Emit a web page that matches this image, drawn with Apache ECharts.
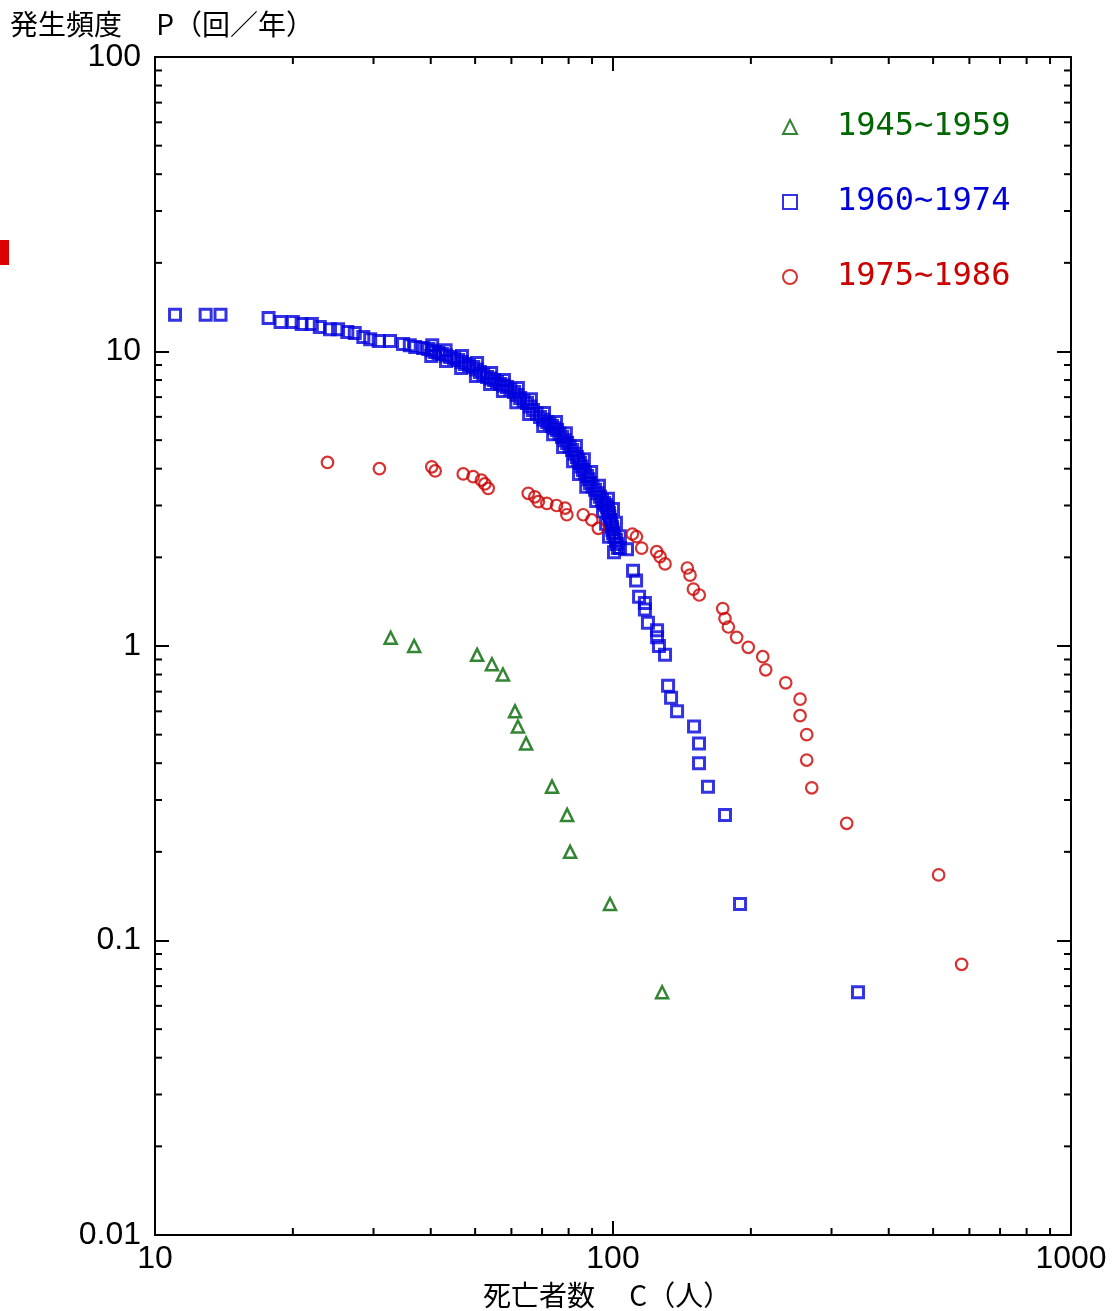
<!DOCTYPE html>
<html>
<head>
<meta charset="utf-8">
<script src="https://cdn.jsdelivr.net/npm/echarts@6/dist/echarts.min.js"></script>
<style>
html, body { margin: 0; background: #fff; }
#main { width: 1118px; height: 1311px; }
</style>
</head>
<body>
<div id="main"></div>
<script>
// 1945~1959 (C 死亡者数, P 発生頻度)
const green = [
	[32.7, 1.067], [36.8, 1.0], [50.5, 0.933], [54.4, 0.867], [57.5, 0.8],
	[61.1, 0.6], [62.0, 0.533], [64.6, 0.467], [73.6, 0.333], [79.4, 0.267],
	[80.6, 0.2], [98.5, 0.133], [128, 0.0667]
];

// 1960~1974
const blue = [
	[11.06, 13.33], [12.9, 13.33], [13.9, 13.33], [17.7, 13.0], [18.8, 12.6],
	[20.0, 12.6], [20.9, 12.4], [22.0, 12.4], [22.9, 12.1], [24.1, 11.9],
	[25.1, 11.9], [26.3, 11.65], [27.3, 11.56], [28.5, 11.2], [29.5, 11.0],
	[30.8, 10.85], [32.6, 10.85], [34.8, 10.6], [36.0, 10.5], [37.0, 10.35], [38.5, 10.28],
	[39.5, 10.2], [40.9, 9.96], [42.3, 9.81], [44.1, 9.58], [45.9, 9.36],
	[47.5, 9.07], [49.5, 8.86], [51.2, 8.52], [53.1, 8.19], [55.0, 8.00],
	[56.7, 7.76], [58.7, 7.58], [60.8, 7.29], [62.7, 6.95], [64.9, 6.68],
	[66.9, 6.33], [69.3, 5.99], [71.8, 5.76], [73.6, 5.58], [75.5, 5.41],
	[77.4, 5.12], [79.4, 4.89], [81.4, 4.63], [83.4, 4.38], [84.7, 4.18],
	[86.0, 3.96], [87.8, 3.78], [89.1, 3.58], [91.4, 3.39], [93.7, 3.21],
	[95.6, 3.06], [97.0, 2.96], [98.0, 2.83], [98.5, 2.68], [99.5, 2.54],
	[100, 2.42], [101.5, 2.29], [102.5, 2.15],
	[40.2, 10.08], [41.6, 9.88], [43.2, 9.70], [45.0, 9.47], [46.7, 9.21],
	[48.5, 8.96], [50.3, 8.69], [52.1, 8.35], [54.0, 8.10], [55.8, 7.88],
	[57.7, 7.67], [59.7, 7.43], [61.7, 7.12], [63.8, 6.81], [65.9, 6.50],
	[68.1, 6.16], [70.5, 5.87], [72.7, 5.67], [74.5, 5.49], [76.4, 5.26],
	[78.4, 5.00], [80.4, 4.76], [82.4, 4.50], [84.0, 4.28], [85.3, 4.07],
	[86.9, 3.87], [88.4, 3.68], [90.2, 3.48], [92.5, 3.30], [94.6, 3.13],
	[96.3, 3.01], [97.5, 2.89], [98.2, 2.75], [99.0, 2.61], [99.7, 2.48],
	[100.7, 2.35], [102.0, 2.22],
	[40.3, 10.5], [40.1, 9.65], [43.1, 10.1], [43.2, 9.28], [46.8, 9.66],
	[46.6, 8.79], [50.5, 9.14], [50.2, 8.26], [54.2, 8.45], [53.9, 7.75],
	[57.8, 8.01], [57.5, 7.35], [62.0, 7.52], [61.5, 6.73], [66.2, 6.89],
	[65.6, 6.13], [70.7, 6.18], [70.4, 5.58], [75.1, 5.76], [74.0, 5.24],
	[78.9, 5.28], [77.8, 4.74], [83.0, 4.78], [81.8, 4.24], [86.4, 4.31],
	[84.3, 3.84], [89.6, 3.90], [87.4, 3.47], [93.2, 3.50], [91.9, 3.11],
	[97.5, 3.16], [95.1, 2.87], [100.0, 2.92], [96.6, 2.60], [101.5, 2.62],
	[98.0, 2.35], [103.5, 2.36], [100.5, 2.08],
	[103.6, 2.15], [107.3, 2.13], [110.6, 1.80], [112.3, 1.67], [114.0, 1.47],
	[117.4, 1.40], [117.4, 1.33], [119.2, 1.20], [124.8, 1.13], [124.8, 1.07],
	[126.0, 1.0], [129.9, 0.933], [131.9, 0.733], [133.9, 0.667], [138.0, 0.6],
	[150.3, 0.533], [154.1, 0.467], [154.1, 0.4], [161.2, 0.333], [175.6, 0.267],
	[189.4, 0.133], [342.7, 0.0667]
];

// 1975~1986
const red = [
	[23.8, 4.2], [30.9, 4.0], [40.2, 4.06], [40.9, 3.93], [47.1, 3.84],
	[49.5, 3.76], [51.6, 3.66], [52.5, 3.55], [53.4, 3.43], [65.3, 3.3],
	[67.5, 3.21], [68.7, 3.09], [71.7, 3.05], [75.3, 3.0], [78.6, 2.94],
	[79.3, 2.79], [86.1, 2.79], [89.9, 2.68], [92.9, 2.51], [110.2, 2.40],
	[112.5, 2.35], [115.5, 2.15], [124.6, 2.09], [126.7, 2.01], [129.9, 1.90],
	[145.3, 1.84], [147.3, 1.74], [149.8, 1.56], [154.3, 1.49], [173.6, 1.34],
	[175.6, 1.24], [178.6, 1.16], [186.2, 1.07], [197.4, 0.99], [212.3, 0.92],
	[215.5, 0.83], [238.3, 0.75], [256.1, 0.66], [256.1, 0.58], [264.8, 0.5],
	[264.8, 0.41], [271.6, 0.33], [323.8, 0.25], [514, 0.167], [577, 0.083]
];

const seriesNames = ['1945~1959', '1960~1974', '1975~1986'];
const colors = ['#006600', '#0000dd', '#cc0000'];

// 補助目盛
const xMinor = [20, 30, 40, 50, 60, 70, 80, 90, 200, 300, 400, 500, 600, 700, 800, 900];
const yMinor = [0.02, 0.03, 0.04, 0.05, 0.06, 0.07, 0.08, 0.09,
	0.2, 0.3, 0.4, 0.5, 0.6, 0.7, 0.8, 0.9,
	2, 3, 4, 5, 6, 7, 8, 9,
	20, 30, 40, 50, 60, 70, 80, 90];

const xMin = 10, xMax = 1000, yMin = 0.01, yMax = 100;

const chart = echarts.init(document.getElementById('main'));

const axisLine = { lineStyle: { color: '#000', width: 2 } };
const axisTick = { inside: true, length: 14, lineStyle: { color: '#000', width: 2 } };
const labelStyle = { fontSize: 32, fontFamily: 'Liberation Sans', color: '#000',
	formatter: function (v) { return String(v); } };

function tickLine(x1, y1, x2, y2) {
	return { type: 'line', shape: { x1: x1, y1: y1, x2: x2, y2: y2 }, style: { stroke: '#000', lineWidth: 2 } };
}

let option = {
	animation: false,
	backgroundColor: '#fff',
	grid: { left: 155, top: 57, right: 47, bottom: 76 },
	xAxis: [{
		type: 'log', min: xMin, max: xMax, position: 'bottom',
		axisLine: axisLine, axisTick: axisTick, splitLine: { show: false },
		axisLabel: Object.assign({ margin: 8 }, labelStyle)
	}, {
		type: 'log', min: xMin, max: xMax, position: 'top',
		axisLine: axisLine, axisTick: axisTick, splitLine: { show: false },
		axisLabel: { show: false }
	}],
	yAxis: [{
		type: 'log', min: yMin, max: yMax, position: 'left',
		axisLine: axisLine, axisTick: axisTick, splitLine: { show: false },
		axisLabel: Object.assign({ margin: 14 }, labelStyle)
	}, {
		type: 'log', min: yMin, max: yMax, position: 'right',
		axisLine: axisLine, axisTick: axisTick, splitLine: { show: false },
		axisLabel: { show: false }
	}],
	legend: {
		orient: 'vertical', left: 782, top: 111, padding: 0,
		itemWidth: 14, itemHeight: 14, itemGap: 43,
		textStyle: { fontSize: 32, fontFamily: 'DejaVu Sans Mono', lineHeight: 32, padding: [0, 0, 0, 35] },
		data: seriesNames.map(function (n, i) {
			return { name: n, textStyle: { color: colors[i] },
				itemStyle: { color: 'transparent', borderColor: colors[i], borderWidth: 2 } };
		})
	},
	graphic: [
		{ type: 'text', left: 10, top: 10, style: { text: '発生頻度　 P（回／年）', font: '28px "Noto Sans CJK JP"', fill: '#000' } },
		{ type: 'text', left: 483, top: 1281, style: { text: '死亡者数　 C（人）', font: '28px "Noto Sans CJK JP"', fill: '#000' } },
		{ type: 'rect', left: 0, top: 240, shape: { width: 9, height: 25 }, style: { fill: '#dd0000' } }
	],
	series: [{
		name: seriesNames[0], type: 'scatter', data: green,
		symbol: 'triangle', symbolSize: 12,
		itemStyle: { color: 'transparent', borderColor: colors[0], borderWidth: 2.5 }
	}, {
		name: seriesNames[1], type: 'scatter', data: blue,
		symbol: 'rect', symbolSize: 11,
		itemStyle: { color: 'transparent', borderColor: colors[1], borderWidth: 3 }
	}, {
		name: seriesNames[2], type: 'scatter', data: red,
		symbol: 'circle', symbolSize: 11.5,
		itemStyle: { color: 'transparent', borderColor: colors[2], borderWidth: 2.2 }
	}, {
		// x 軸補助目盛（上下）
		type: 'custom', silent: true,
		data: xMinor.map(function (v) { return [v, 1]; }),
		encode: { x: 0, y: 1 },
		renderItem: function (params, api) {
			const b = api.coord([api.value(0), yMin]);
			const t = api.coord([api.value(0), yMax]);
			return { type: 'group', children: [
				tickLine(b[0], b[1], b[0], b[1] - 7),
				tickLine(t[0], t[1], t[0], t[1] + 7)
			] };
		}
	}, {
		// y 軸補助目盛（左右）
		type: 'custom', silent: true,
		data: yMinor.map(function (v) { return [20, v]; }),
		encode: { x: 0, y: 1 },
		renderItem: function (params, api) {
			const l = api.coord([xMin, api.value(1)]);
			const r = api.coord([xMax, api.value(1)]);
			return { type: 'group', children: [
				tickLine(l[0], l[1], l[0] + 7, l[1]),
				tickLine(r[0], r[1], r[0] - 7, r[1])
			] };
		}
	}]
};

chart.setOption(option);
</script>
</body>
</html>
